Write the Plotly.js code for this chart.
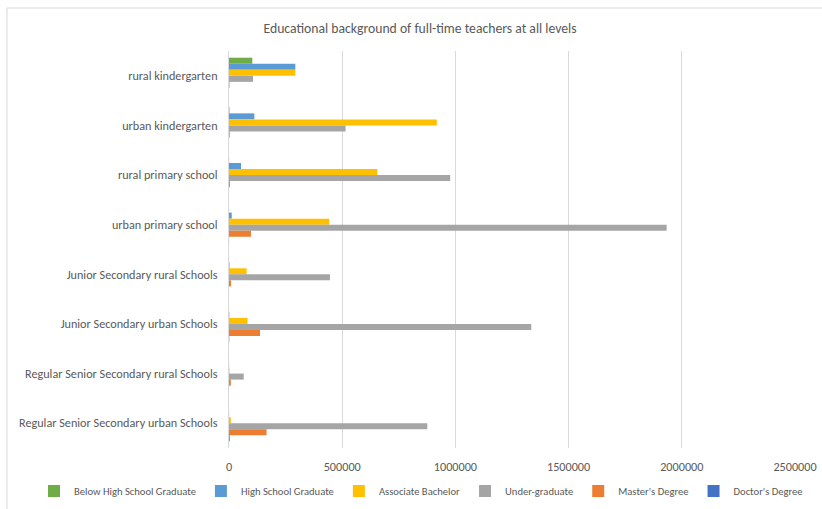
<!DOCTYPE html>
<html>
<head>
<meta charset="utf-8">
<script src="https://cdn.plot.ly/plotly-3.0.1.min.js"></script>
<style>
html,body{margin:0;padding:0;background:#fff;}
#chart{width:822px;height:509px;}
</style>
</head>
<body>
<div id="chart"></div>
<script>
const categories = [
  "rural kindergarten",
  "urban kindergarten",
  "rural primary school",
  "urban primary school",
  "Junior Secondary rural Schools",
  "Junior Secondary urban Schools",
  "Regular Senior Secondary rural Schools",
  "Regular Senior Secondary urban Schools"
];
const seriesNames = [
  "Below High School Graduate",
  "High School Graduate",
  "Associate Bachelor",
  "Under-graduate",
  "Master's Degree",
  "Doctor's Degree"
];
const belowHighSchool = [103000, 2000, 500, 300, 200, 100, 100, 100];
const highSchool      = [293000, 112000, 53000, 12000, 2000, 1500, 300, 500];
const associate       = [293000, 918000, 655000, 443000, 78000, 82000, 2000, 8000];
const undergraduate   = [106000, 515000, 977000, 1933000, 446000, 1335000, 65000, 876000];
const masters         = [2000, 3000, 4000, 97000, 9000, 137000, 8000, 166000];
const doctors         = [0, 0, 0, 300, 100, 1000, 100, 3000];
const xTicks = [0, 500000, 1000000, 1500000, 2000000, 2500000];

const colors = ["#70AD47", "#5B9BD5", "#FFC000", "#A5A5A5", "#ED7D31", "#4472C4"];
const seriesValues = [belowHighSchool, highSchool, associate, undergraduate, masters, doctors];

const FONT = "Carlito, Lato, 'Open Sans', sans-serif";

const traces = seriesValues.map((vals, i) => ({
  type: "bar",
  orientation: "h",
  name: seriesNames[i],
  x: vals,
  y: categories,
  marker: {color: colors[i], line: {width: 0}},
  hoverinfo: "x+name"
}));

// pixel -> paper helpers
const L = 229, R = 27, T = 51, B = 61, W = 822, H = 509;
const pw = W - L - R, ph = H - T - B;
const px = p => (p - L) / pw;
const py = p => (H - B - p) / ph;

const layout = {
  width: W, height: H,
  margin: {l: L, r: R, t: T, b: B, pad: 0, autoexpand: false},
  paper_bgcolor: "#fff",
  plot_bgcolor: "#fff",
  font: {family: FONT, color: "#595959", size: 12},
  title: {
    text: "Educational background of full-time teachers at all levels",
    font: {family: FONT, size: 13.7, color: "#595959"},
    x: px(420), xref: "paper", xanchor: "center",
    y: 1 - 28 / H, yref: "container", yanchor: "middle"
  },
  barmode: "group",
  bargap: 0.27,
  bargroupgap: 0,
  xaxis: {
    range: [0, 2500000],
    tickvals: xTicks,
    ticktext: xTicks.map(v => String(v)),
    showgrid: true,
    gridcolor: "#D9D9D9",
    gridwidth: 1,
    zeroline: false,
    showline: false,
    ticks: "",
    ticklabelstandoff: 10,
    tickfont: {family: FONT, size: 12.2, color: "#595959"},
    fixedrange: true
  },
  yaxis: {
    autorange: "reversed",
    type: "category",
    showgrid: false,
    zeroline: false,
    showline: true,
    linecolor: "#D9D9D9",
    linewidth: 1,
    ticks: "",
    ticklabelstandoff: 8,
    tickfont: {family: FONT, size: 12.2, color: "#595959"},
    fixedrange: true
  },
  legend: {
    orientation: "h",
    x: px(34), xanchor: "left",
    y: py(491), yanchor: "middle",
    font: {family: FONT, size: 10.6, color: "#595959"},
    traceorder: "normal",
    itemwidth: 30,
    bgcolor: "rgba(0,0,0,0)"
  },
  shapes: [
    {type: "line", xref: "paper", yref: "paper",
     x0: px(7), x1: px(7), y0: py(8), y1: py(520),
     line: {color: "#D9D9D9", width: 1}},
    {type: "line", xref: "paper", yref: "paper",
     x0: px(7), x1: px(830), y0: py(8), y1: py(8),
     line: {color: "#D9D9D9", width: 1}}
  ],
  showlegend: true
};

Plotly.newPlot("chart", traces, layout, {displayModeBar: false, staticPlot: true});
</script>
</body>
</html>
